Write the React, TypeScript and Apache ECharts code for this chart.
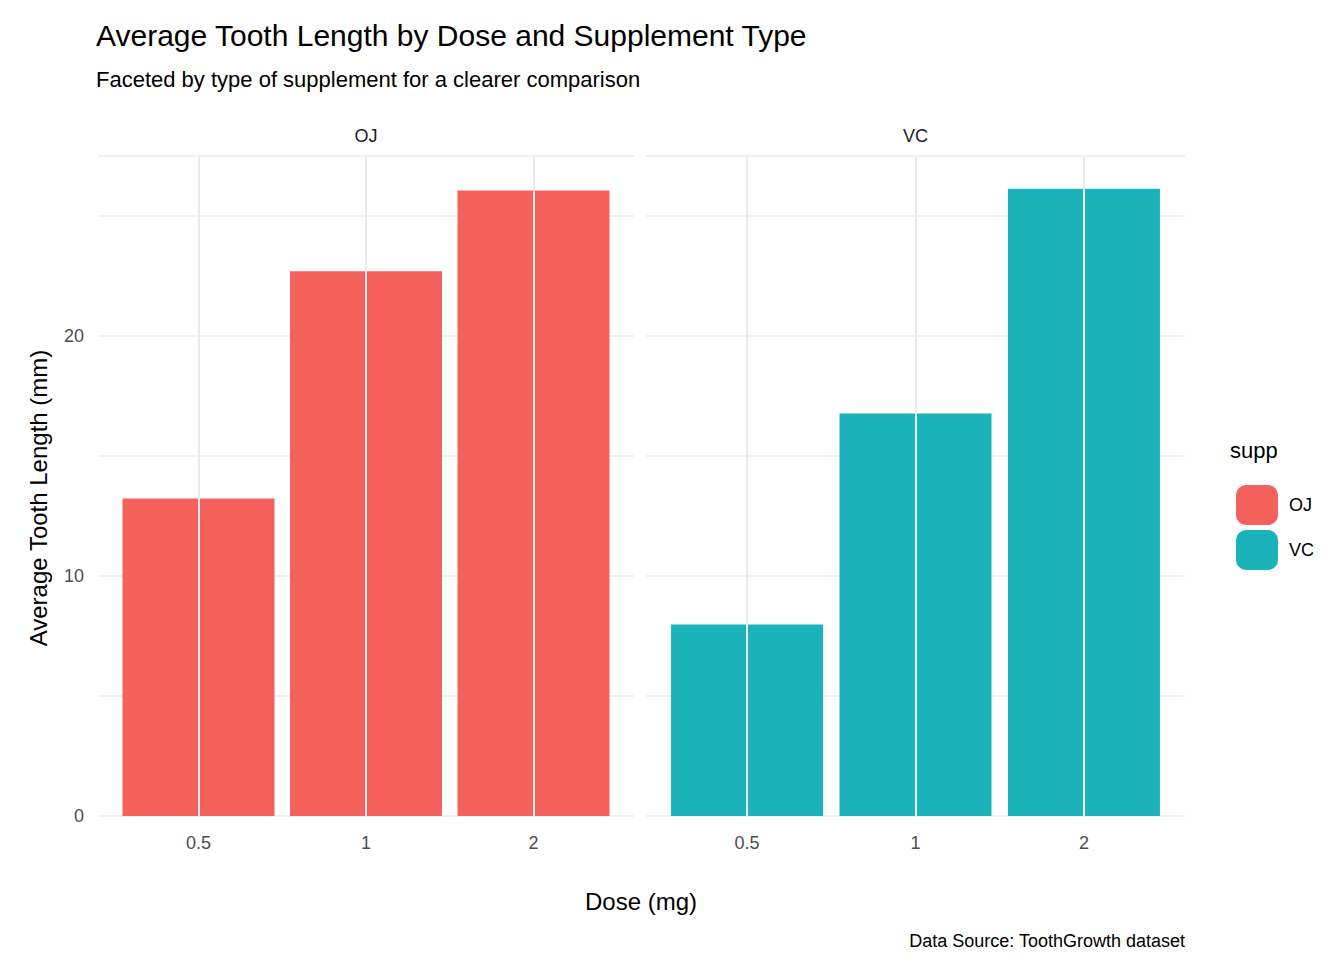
import { useEffect, useRef } from 'react';
import * as echarts from 'echarts';

const doses = ['0.5', '1', '2'];
const dosePos = [6, 16, 26];
const ojLen = [13.23, 22.7, 26.06];
const vcLen = [7.98, 16.77, 26.14];
const panels = ['OJ', 'VC'];
const colors = ['#F4605C', '#19B3B9'];

const grid = '#ebebeb';
const txt = '#4d4d4d';

export default function App() {
  const ref = useRef<HTMLDivElement>(null);

  useEffect(() => {
    if (!ref.current) return;
    const chart = echarts.init(ref.current, null, { renderer: 'svg' });
    const lefts = [90, 638];
    const widths = [536, 539];
    const font = 'Helvetica, Arial, "Liberation Sans", sans-serif';

    const option = {
      animation: false,
      textStyle: { fontFamily: font },
      grid: lefts.map((l, i) => ({ left: l, width: widths[i], top: 148, height: 660 })),
      xAxis: lefts.map((_, i) => ({
        type: 'value',
        gridIndex: i,
        min: 0,
        max: 32,
        interval: 2,
        axisLine: { show: false },
        axisTick: { show: false },
        splitLine: { show: false },
        axisLabel: {
          color: txt,
          fontSize: 18,
          margin: 18,
          formatter: (v: number) => {
            const k = dosePos.indexOf(v);
            return k >= 0 ? doses[k] : '';
          },
        },
      })),
      yAxis: lefts.map((_, i) => ({
        type: 'value',
        gridIndex: i,
        min: 0,
        max: 27.5,
        interval: 5,
        axisLine: { show: false },
        axisTick: { show: false },
        splitLine: { lineStyle: { color: grid, width: 1.6 } },
        axisLabel: {
          show: i === 0,
          color: txt,
          fontSize: 18,
          margin: 14,
          formatter: (v: number) => (v % 10 === 0 ? String(v) : ''),
        },
      })),
      legend: {
        orient: 'vertical',
        left: 1223,
        top: 472,
        itemWidth: 42,
        itemHeight: 40,
        itemGap: 5,
        data: panels,
        textStyle: { fontSize: 18, color: '#000', padding: [0, 0, 0, 6] },
      },
      series: [
        ...panels.map((p, i) => ({
          name: p + '_grid',
          type: 'line',
          xAxisIndex: i,
          yAxisIndex: i,
          data: [],
          z: 1,
          markLine: {
            silent: true,
            symbol: 'none',
            label: { show: false },
            lineStyle: { color: grid, width: 2, type: 'solid' },
            data: dosePos.map((x) => ({ xAxis: x })),
          },
        })),
        ...panels.map((p, i) => ({
          name: p,
          type: 'bar',
          xAxisIndex: i,
          yAxisIndex: i,
          barWidth: 152,
          z: 3,
          itemStyle: { color: colors[i] },
          data: (i === 0 ? ojLen : vcLen).map((v, k) => [dosePos[k], v]),
        })),
      ],
      graphic: [
        { type: 'text', left: 88, top: 12, style: { text: 'Average Tooth Length by Dose and Supplement Type', fontSize: 30, fill: '#000', fontFamily: font } },
        { type: 'text', left: 88, top: 60, style: { text: 'Faceted by type of supplement for a clearer comparison', fontSize: 22, fill: '#000', fontFamily: font } },
        ...panels.map((p, i) => ({
          type: 'text',
          x: lefts[i] + widths[i] / 2,
          y: 128,
          style: { text: p, fontSize: 18, fill: '#1a1a1a', align: 'center', verticalAlign: 'middle', fontFamily: font },
        })),
        { type: 'text', x: 633, y: 893, style: { text: 'Dose (mg)', fontSize: 24, fill: '#000', align: 'center', verticalAlign: 'middle', fontFamily: font } },
        { type: 'text', x: 30, y: 490, rotation: Math.PI / 2, style: { text: 'Average Tooth Length (mm)', fontSize: 24, fill: '#000', align: 'center', verticalAlign: 'middle', fontFamily: font } },
        { type: 'text', x: 1177, y: 933, style: { text: 'Data Source: ToothGrowth dataset', fontSize: 18, fill: '#000', align: 'right', verticalAlign: 'middle', fontFamily: font } },
        { type: 'text', x: 1222, y: 442, style: { text: 'supp', fontSize: 22, fill: '#000', verticalAlign: 'middle', fontFamily: font } },
      ],
    };
    chart.setOption(option);
    return () => chart.dispose();
  }, []);

  return <div ref={ref} style={{ width: 1328, height: 944 }} />;
}
